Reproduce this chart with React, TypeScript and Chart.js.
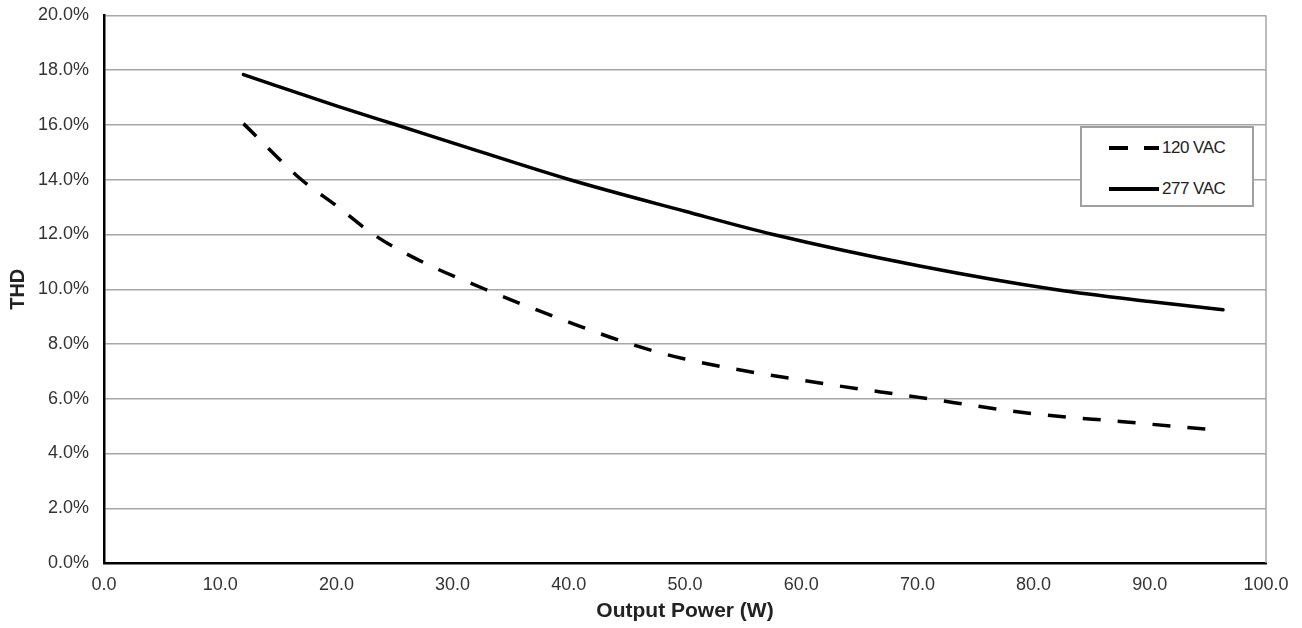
import React, { useEffect, useRef } from "react";
import { Chart, registerables } from "chart.js";

Chart.register(...registerables);

// Output power (W) and THD (%)
const power120 = [12, 17, 20, 23.2, 27, 32.8, 36, 40, 45.3, 50, 60, 70, 80, 87.7, 94.8];
const thd120 = [16.05, 14.0, 13.05, 12.0, 11.08, 10.0, 9.45, 8.8, 8.0, 7.45, 6.68, 6.06, 5.45, 5.16, 4.89];

const power277 = [12, 20, 25.2, 30, 40.1, 50, 57.6, 70.2, 82, 90, 96.3];
const thd277 = [17.84, 16.7, 16.0, 15.35, 14.0, 12.85, 12.0, 10.85, 9.98, 9.55, 9.25];

const seriesLabels = ["120 VAC", "277 VAC"];
const xTitle = "Output Power (W)";
const yTitle = "THD";

const FONT = "'Liberation Sans', Arial, sans-serif";

const borderPlugin = {
  id: "rightBorder",
  beforeDatasetsDraw(chart: any) {
    const { ctx, chartArea } = chart;
    ctx.save();
    ctx.strokeStyle = "#a6a6a6";
    ctx.lineWidth = 1.5;
    ctx.beginPath();
    ctx.moveTo(chartArea.right, chartArea.top);
    ctx.lineTo(chartArea.right, chartArea.bottom);
    ctx.stroke();
    ctx.restore();
  },
};

export default function App() {
  const ref = useRef<HTMLCanvasElement | null>(null);

  useEffect(() => {
    document.body.style.margin = "0";
    const canvas = ref.current;
    if (!canvas) return;
    const chart = new Chart(canvas, {
      type: "line",
      data: {
        datasets: [
          {
            label: seriesLabels[0],
            data: power120.map((x, i) => ({ x, y: thd120[i] })),
            borderColor: "#000",
            borderWidth: 3.5,
            borderDash: [18, 17],
            borderCapStyle: "butt",
            pointRadius: 0,
            cubicInterpolationMode: "monotone",
            fill: false,
          },
          {
            label: seriesLabels[1],
            data: power277.map((x, i) => ({ x, y: thd277[i] })),
            borderColor: "#000",
            borderWidth: 3.5,
            borderCapStyle: "round",
            pointRadius: 0,
            cubicInterpolationMode: "monotone",
            fill: false,
          },
        ],
      },
      options: {
        responsive: false,
        maintainAspectRatio: false,
        animation: false,
        layout: { padding: { top: 15.5, right: 36, left: 0, bottom: 0 } },
        plugins: { legend: { display: false }, tooltip: { enabled: false } },
        scales: {
          x: {
            type: "linear",
            min: 0,
            max: 100,
            afterFit: (s: any) => {
              s.height = 65;
            },
            grid: { display: false, drawTicks: false },
            border: { display: true, color: "#000", width: 2.5 },
            ticks: {
              stepSize: 10,
              padding: 11,
              color: "#333",
              font: { family: FONT, size: 18 },
              maxRotation: 0,
              callback: (v: any) => Number(v).toFixed(1),
            },
            title: {
              display: true,
              text: xTitle,
              color: "#222",
              font: { family: FONT, size: 21, weight: "bold" },
              padding: { top: 0, bottom: 4 },
            },
          },
          y: {
            type: "linear",
            min: 0,
            max: 20,
            afterFit: (s: any) => {
              s.width = 104;
              s.paddingTop = 0;
              s.paddingBottom = 0;
            },
            grid: {
              drawTicks: false,
              color: (c: any) => (c.tick && c.tick.value === 0 ? "rgba(0,0,0,0)" : "#a6a6a6"),
              lineWidth: 1.5,
            },
            border: { display: true, color: "#000", width: 2.5 },
            ticks: {
              stepSize: 2,
              padding: 15,
              color: "#333",
              font: { family: FONT, size: 18 },
              callback: (v: any) => Number(v).toFixed(1) + "%",
            },
            title: {
              display: true,
              text: yTitle,
              color: "#222",
              font: { family: FONT, size: 20, weight: "bold" },
              padding: { top: 6, bottom: 0 },
            },
          },
        },
      },
      plugins: [borderPlugin],
    } as any);
    return () => chart.destroy();
  }, []);

  const rowStyle: React.CSSProperties = {
    position: "absolute",
    left: 0,
    display: "flex",
    alignItems: "center",
    height: 24,
  };

  return (
    <div style={{ position: "relative", width: 1302, height: 628 }}>
      <canvas ref={ref} width={1302} height={628} style={{ display: "block", width: 1302, height: 628 }} />
      <div
        style={{
          position: "absolute",
          left: 1080,
          top: 126,
          width: 174,
          height: 81,
          border: "2px solid #a0a0a0",
          background: "#fff",
          boxSizing: "border-box",
          fontFamily: FONT,
          fontSize: 17,
          color: "#222",
        }}
      >
        <div style={{ ...rowStyle, top: 20 - 12 }}>
          <svg width={80} height={24} style={{ display: "block" }}>
            <line x1={27} y1={12} x2={77} y2={12} stroke="#000" strokeWidth={4} strokeDasharray="19 16" />
          </svg>
          <span style={{ letterSpacing: -0.5 }}>{seriesLabels[0]}</span>
        </div>
        <div style={{ ...rowStyle, top: 61 - 12 }}>
          <svg width={80} height={24} style={{ display: "block" }}>
            <line x1={27} y1={12} x2={77} y2={12} stroke="#000" strokeWidth={4} />
          </svg>
          <span style={{ letterSpacing: -0.5 }}>{seriesLabels[1]}</span>
        </div>
      </div>
    </div>
  );
}
